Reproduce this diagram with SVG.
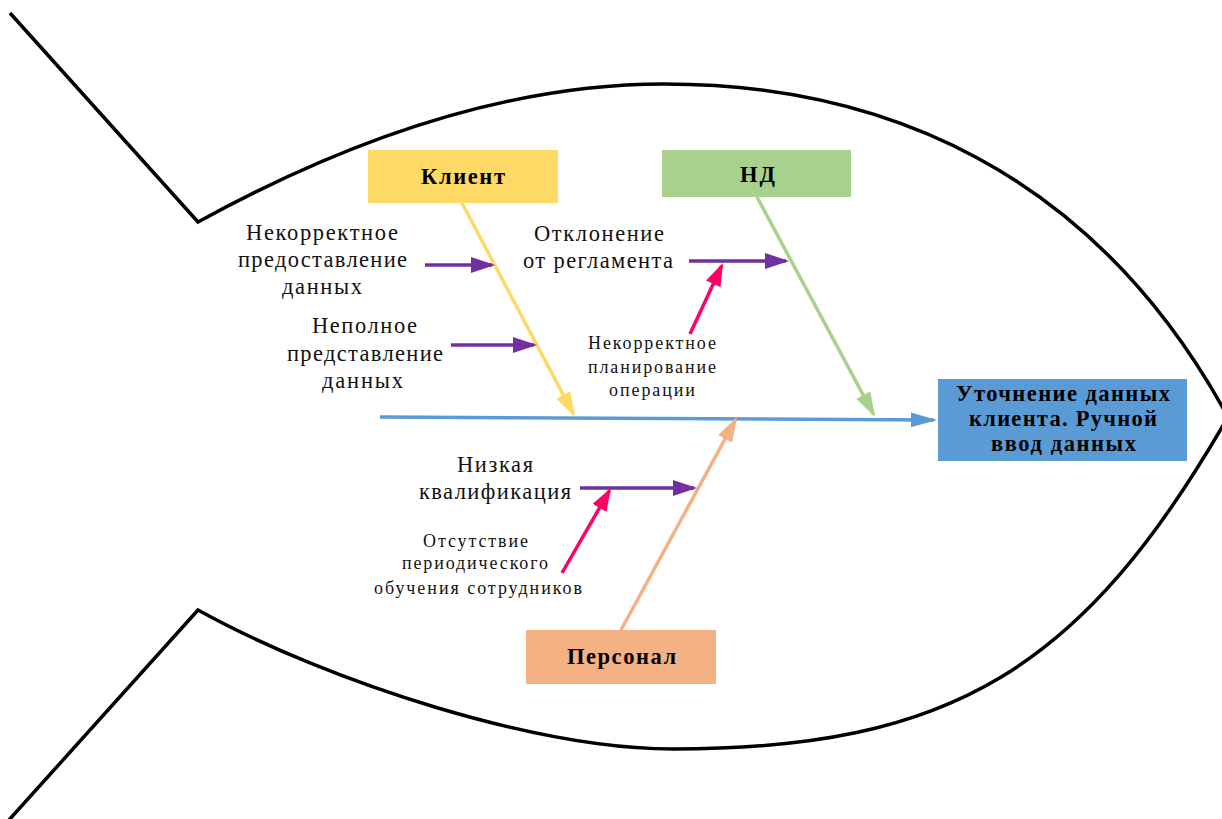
<svg xmlns="http://www.w3.org/2000/svg" width="1222" height="819" viewBox="0 0 1222 819">
  <defs>
    <style>
      .outline { fill: none; stroke: #000; stroke-width: 3.5; stroke-linejoin: miter; }
      .bone { fill: none; stroke-width: 3.5; }
      .lbl { font-family: "Liberation Serif", "Times New Roman", serif; font-size: 22.5px; fill: #111; }
      .sm { font-family: "Liberation Serif", "Times New Roman", serif; font-size: 18px; fill: #111; }
      .hd { font-family: "Liberation Serif", "Times New Roman", serif; font-size: 22.5px; font-weight: bold; fill: #000; }
    </style>
    <marker id="ah-blue" viewBox="0 0 26 15" refX="23" refY="7.5" markerWidth="26" markerHeight="15" markerUnits="userSpaceOnUse" orient="auto">
      <path d="M0,0 L26,7.5 L0,15 z" fill="#5B9BD5"/>
    </marker>
    <marker id="ah-yellow" viewBox="0 0 25 16" refX="22" refY="8" markerWidth="25" markerHeight="16" markerUnits="userSpaceOnUse" orient="auto">
      <path d="M0,0 L25,8 L0,16 z" fill="#FFD966"/>
    </marker>
    <marker id="ah-green" viewBox="0 0 25 16" refX="22" refY="8" markerWidth="25" markerHeight="16" markerUnits="userSpaceOnUse" orient="auto">
      <path d="M0,0 L25,8 L0,16 z" fill="#A9D18E"/>
    </marker>
    <marker id="ah-orange" viewBox="0 0 25 16" refX="22" refY="8" markerWidth="25" markerHeight="16" markerUnits="userSpaceOnUse" orient="auto">
      <path d="M0,0 L25,8 L0,16 z" fill="#F4B183"/>
    </marker>
    <marker id="ah-purple" viewBox="0 0 24 16" refX="21" refY="8" markerWidth="24" markerHeight="16" markerUnits="userSpaceOnUse" orient="auto">
      <path d="M0,0 L24,8 L0,16 z" fill="#7030A0"/>
    </marker>
    <marker id="ah-pink" viewBox="0 0 23 16" refX="20" refY="8" markerWidth="23" markerHeight="16" markerUnits="userSpaceOnUse" orient="auto">
      <path d="M0,0 L23,8 L0,16 z" fill="#FF0066"/>
    </marker>
  </defs>

  <rect x="0" y="0" width="1222" height="819" fill="#fff"/>

  <!-- fish body and tail -->
  <path class="outline" d="M10,13 L198,222 C353,137 509,84 664,84 C883,84 1094,171 1228,417 C1083,669 951,749 673,749 C539,749 332,684 198,610 L9,820"/>

  <g id="connectors">
    <!-- spine -->
    <line class="bone" x1="380" y1="417" x2="934" y2="420" stroke="#5B9BD5" marker-end="url(#ah-blue)"/>
    <!-- main bones -->
    <line class="bone" x1="462" y1="203" x2="573.6" y2="414.4" stroke="#FFD966" marker-end="url(#ah-yellow)"/>
    <line class="bone" x1="757" y1="197" x2="873.6" y2="414.4" stroke="#A9D18E" marker-end="url(#ah-green)"/>
    <line class="bone" x1="621" y1="630" x2="735.6" y2="419.6" stroke="#F4B183" marker-end="url(#ah-orange)"/>
    <!-- causes -->
    <line class="bone" x1="425" y1="265" x2="492" y2="265" stroke="#7030A0" marker-end="url(#ah-purple)"/>
    <line class="bone" x1="451" y1="345" x2="534" y2="345" stroke="#7030A0" marker-end="url(#ah-purple)"/>
    <line class="bone" x1="689" y1="261" x2="786" y2="261" stroke="#7030A0" marker-end="url(#ah-purple)"/>
    <line class="bone" x1="580" y1="488" x2="694" y2="488" stroke="#7030A0" marker-end="url(#ah-purple)"/>
    <!-- sub-causes -->
    <line class="bone" x1="690" y1="334" x2="721.7" y2="265.7" stroke="#FF0066" marker-end="url(#ah-pink)"/>
    <line class="bone" x1="562" y1="573" x2="609.5" y2="490.6" stroke="#FF0066" marker-end="url(#ah-pink)"/>
  </g>

  <g id="node-client">
    <rect x="368" y="150" width="190" height="53" fill="#FFD966"/>
    <text class="hd" x="421" y="184" textLength="84" lengthAdjust="spacing">Клиент</text>
  </g>

  <g id="node-nd">
    <rect x="662" y="150" width="189" height="47" fill="#A9D18E"/>
    <text class="hd" x="740" y="182" textLength="35" lengthAdjust="spacing">НД</text>
  </g>

  <g id="node-staff">
    <rect x="526" y="630" width="190" height="54" fill="#F4B183"/>
    <text class="hd" x="567" y="664" textLength="109" lengthAdjust="spacing">Персонал</text>
  </g>

  <g id="node-effect">
    <rect x="938" y="379" width="249" height="82" fill="#5B9BD5"/>
    <text class="hd" x="956" y="401" textLength="214" lengthAdjust="spacing">Уточнение данных</text>
    <text class="hd" x="969" y="426" textLength="188" lengthAdjust="spacing">клиента. Ручной</text>
    <text class="hd" x="991" y="451" textLength="145" lengthAdjust="spacing">ввод данных</text>
  </g>

  <g id="cause-incorrect-data">
    <text class="lbl" x="246" y="240" textLength="152" lengthAdjust="spacing">Некорректное</text>
    <text class="lbl" x="238" y="267" textLength="169" lengthAdjust="spacing">предоставление</text>
    <text class="lbl" x="282" y="294" textLength="80" lengthAdjust="spacing">данных</text>
  </g>

  <g id="cause-incomplete-data">
    <text class="lbl" x="312" y="333" textLength="105" lengthAdjust="spacing">Неполное</text>
    <text class="lbl" x="287" y="361" textLength="156" lengthAdjust="spacing">представление</text>
    <text class="lbl" x="322" y="388" textLength="81" lengthAdjust="spacing">данных</text>
  </g>

  <g id="cause-deviation">
    <text class="lbl" x="534" y="241" textLength="130" lengthAdjust="spacing">Отклонение</text>
    <text class="lbl" x="523" y="268" textLength="150" lengthAdjust="spacing">от регламента</text>
  </g>

  <g id="subcause-planning">
    <text class="sm" x="588" y="349" textLength="128" lengthAdjust="spacing">Некорректное</text>
    <text class="sm" x="588" y="373" textLength="128" lengthAdjust="spacing">планирование</text>
    <text class="sm" x="609" y="396" textLength="86" lengthAdjust="spacing">операции</text>
  </g>

  <g id="cause-low-skill">
    <text class="lbl" x="457" y="472" textLength="76" lengthAdjust="spacing">Низкая</text>
    <text class="lbl" x="419" y="499" textLength="152" lengthAdjust="spacing">квалификация</text>
  </g>

  <g id="subcause-training">
    <text class="sm" x="423" y="547" textLength="105" lengthAdjust="spacing">Отсутствие</text>
    <text class="sm" x="402" y="569" textLength="146" lengthAdjust="spacing">периодического</text>
    <text class="sm" x="374" y="594" textLength="208" lengthAdjust="spacing">обучения сотрудников</text>
  </g>
</svg>
